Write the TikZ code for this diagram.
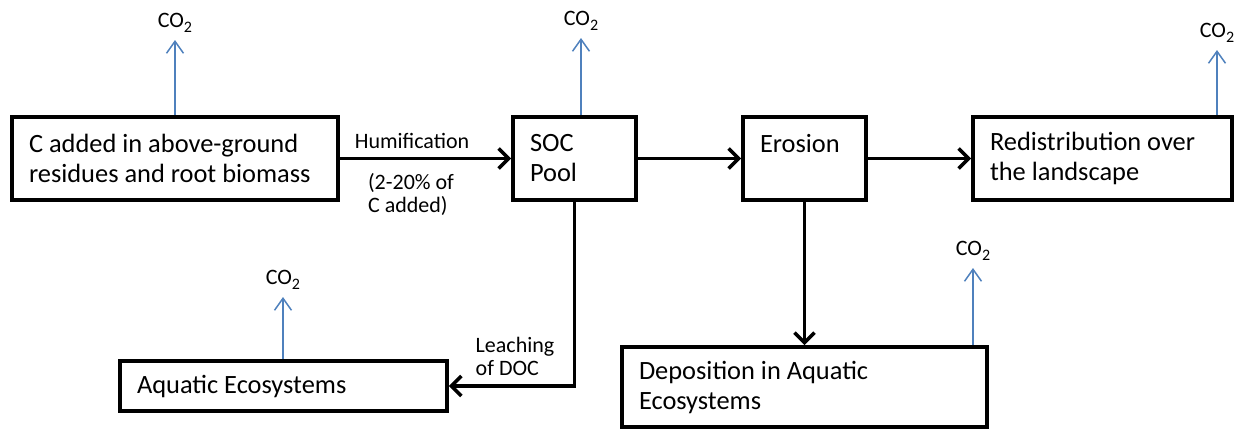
\documentclass[tikz,border=0pt]{standalone}
\usepackage{fontspec}
\setmainfont{Carlito}
\usetikzlibrary{arrows.meta}
\definecolor{co2blue}{RGB}{79,129,189}
\newcommand{\cotwo}{CO\raisebox{-0.45ex}{\fontsize{8}{8}\selectfont 2}}

\begin{document}
\begin{tikzpicture}[x=0.5pt, y=-0.5pt,
	box/.style={draw, line width=1.8pt, align=flush left, inner xsep=8.5pt, inner ysep=0pt,
		font=\fontsize{13.2}{15}\selectfont},
	flow/.style={->, line width=1.8pt, >={Straight Barb[length=5pt,width=10pt]}},
	co2/.style={->, co2blue, line width=0.75pt, >={Straight Barb[length=6pt,width=8.5pt]}},
	lbl/.style={align=flush left, font=\fontsize{11}{11.5}\selectfont},
	gas/.style={anchor=south, inner sep=3.5pt, font=\fontsize{11}{12}\selectfont}]
	\useasboundingbox (0,0) rectangle (1249,429);
	
	% top row of pools
	\node[box, text width=146pt, minimum height=41.5pt] (res) at (175,158.5)
		{C added in above-ground\\residues and root biomass};
	\node[box, text width=44.5pt, minimum height=41.5pt] (soc) at (574.5,158.5) {SOC\\Pool};
	\node[box, text width=44.5pt, minimum height=41.5pt] (ero) at (804.5,158.5) {Erosion\\ \mbox{}};
	\node[box, text width=112.5pt, minimum height=41.5pt] (red) at (1102.5,158.5)
		{Redistribution over\\the landscape};
	
	% bottom row
	\node[box, text width=146.5pt, minimum height=25pt] (aqu) at (283.5,386) {Aquatic Ecosystems};
	\node[box, text width=165.5pt, minimum height=40pt] (dep) at (804.5,387)
		{Deposition in Aquatic\\Ecosystems};
	
	% fluxes between pools
	\draw[flow] (res) -- (soc);
	\draw[flow] (soc) -- (ero);
	\draw[flow] (ero) -- (red);
	\draw[flow] (soc.south) |- (aqu.east);
	\draw[flow] (ero.south) -- (dep.north);
	
	\node[lbl] (hum) at (412,141) {Humification};
	\node[lbl] (share) at (411,194) {(2-20\% of\\C added)};
	\node[lbl] (leach) at (515,356) {Leaching\\of DOC};
	
	% CO2 losses
	\node[gas] (g1) at (175,40) {\cotwo};
	\node[gas] (g2) at (581,38) {\cotwo};
	\node[gas] (g3) at (1217,50) {\cotwo};
	\node[gas] (g4) at (283,297) {\cotwo};
	\node[gas] (g5) at (973,268) {\cotwo};
	
	\draw[co2] (res.north -| g1.south) -- (g1.south);
	\draw[co2] (soc.north -| g2.south) -- (g2.south);
	\draw[co2] (red.north -| g3.south) -- (g3.south);
	\draw[co2] (aqu.north -| g4.south) -- (g4.south);
	\draw[co2] (dep.north -| g5.south) -- (g5.south);
\end{tikzpicture}
\end{document}
